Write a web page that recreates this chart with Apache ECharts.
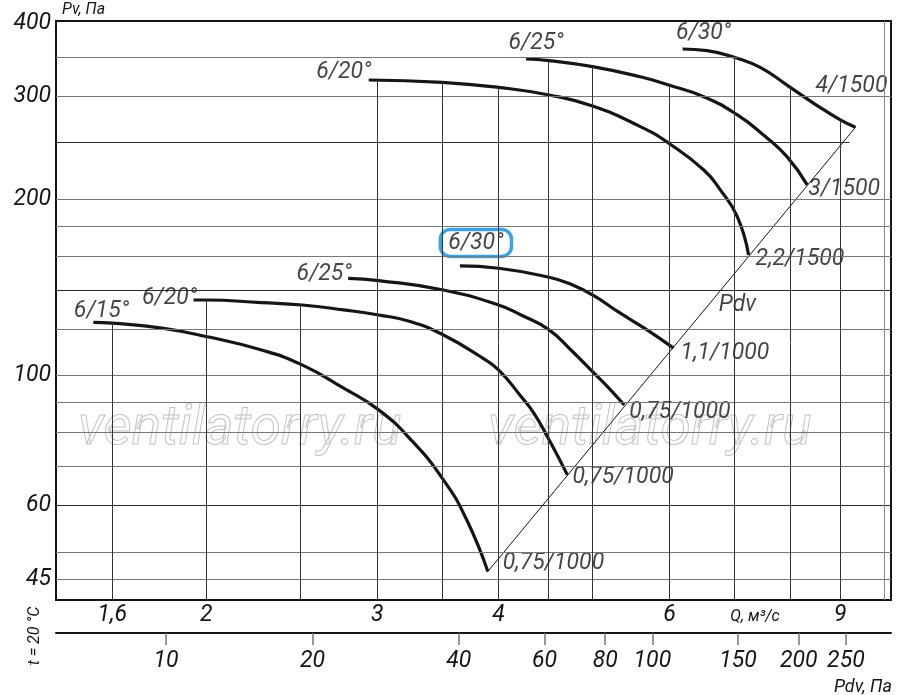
<!DOCTYPE html>
<html lang="ru">
<head>
<meta charset="UTF-8">
<title>Аэродинамическая характеристика</title>
<script src="https://cdn.jsdelivr.net/npm/echarts@6/dist/echarts.min.js"></script>
<style>
  body { margin: 0; background: #fff; }
  #main { width: 900px; height: 695px; }
</style>
</head>
<body>
<div id="main"></div>
<script type="text/javascript">
// ось расхода Q, м3/с и давлений, Па
var qTicks = [1.6, 2, 3, 4, 6, 9];
var pvTicks = [45, 60, 100, 200, 300, 400];
var pdvTicks = [10, 20, 40, 60, 80, 100, 150, 200, 250];

// линии сетки (горизонтальные обрываются на pvGridEnd, вертикальные - под кривыми)
var pvGrid = [45, 50, 60, 70, 80, 90, 100, 120, 140, 160, 180, 200, 250, 300, 350];
var pvGridEnd = [10.15, 10.15, 10.15, 10.15, 10.15, 10.15, 10.15, 10.15, 10.15, 10.15, 10.15, 10.15, 9.2, 10.15, 7.05];
var pvGridDark = [60, 140, 250];
var qGrid = [1.6, 2, 2.5, 3, 3.5, 4, 4.5, 5, 6, 7, 8, 9, 10];
var qGridTop = [122.9, 134.6, 132, 319.6, 316.7, 310.5, 344.8, 336.8, 313.3, 348.1, 311, 273.2, 403];

// кривые Pv(Q): 1000 об/мин
var r1000a15 = [[1.53, 123.3], [1.6, 122.9], [1.8, 120.5], [2.0, 116.6], [2.28, 110.6], [2.51, 104.3], [2.77, 95.2], [3.01, 87.4], [3.25, 77.7], [3.51, 66.4], [3.71, 56.7], [3.9, 46.3]];
var r1000a20 = [[1.94, 134.6], [2.0, 134.6], [2.28, 133.2], [2.51, 132.0], [2.77, 129.5], [3.01, 126.9], [3.25, 123.6], [3.51, 117.3], [3.83, 107.8], [4.0, 102.3], [4.22, 92.1], [4.35, 86.3], [4.51, 77.7], [4.71, 67.7]];
var r1000a25 = [[2.8, 146.6], [3.01, 145.3], [3.51, 140.0], [4.0, 132.0], [4.22, 126.9], [4.51, 119.7], [4.75, 110.6], [5.0, 101.6], [5.18, 95.8], [5.39, 89.1]];
var r1000a30 = [[3.65, 153.9], [4.0, 152.5], [4.51, 147.2], [4.75, 143.2], [5.0, 137.3], [5.34, 127.8], [5.69, 119.7], [6.06, 111.4]];
// 1500 об/мин
var r1500a20 = [[2.94, 319.6], [3.5, 316.7], [4.0, 310.5], [4.51, 301.3], [5.0, 288.5], [5.6, 266.1], [5.99, 249.3], [6.51, 224.4], [6.77, 207.5], [7.05, 186.7], [7.24, 160.7]];
var r1500a25 = [[4.27, 347.1], [4.51, 344.8], [5.0, 336.8], [5.6, 323.7], [5.99, 313.3], [6.51, 299.3], [7.05, 278.6], [7.5, 257.5], [7.93, 236.5], [8.32, 211.6]];
var r1500a30 = [[6.19, 361.0], [6.56, 358.6], [7.05, 348.1], [7.45, 335.5], [7.93, 313.3], [8.45, 291.6], [9.0, 273.2], [9.33, 265.4]];

// линия динамического давления
var pdvLine = [[3.9, 46.3], [9.33, 265.4]];
var pdvNote = [7.05, 132];

var curveData = [r1000a15, r1000a20, r1000a25, r1000a30, r1500a20, r1500a25, r1500a30];
var startNames = ['6/15°', '6/20°', '6/25°', '6/30°', '6/20°', '6/25°', '6/30°'];
var endNames = ['0,75/1000', '0,75/1000', '0,75/1000', '1,1/1000', '2,2/1500', '3/1500', '4/1500'];

// сдвиги подписей, px
var startOff = [[8, -11], [-24, -2], [-24, -4], [16, -23], [-25, -8], [10, -16], [21, -16]];
var endOff = [[15, -8], [5, 2], [5, 7], [7, 5], [7, 4], [1, 4], [-4, -41]];
var endAlign = ['left', 'left', 'left', 'left', 'left', 'left', 'center'];

var font = 'Roboto, "Noto Sans", sans-serif';
var ink = '#151515';
var fmt = function (v) { return String(Math.round(v * 10) / 10).replace('.', ','); };
var tickText = { fontSize: 23, fontStyle: 'italic', fontFamily: font, color: ink };

var myChart = echarts.init(document.getElementById('main'));

var gridLines = [];
pvGrid.forEach(function (v, i) {
    var dark = pvGridDark.indexOf(v) >= 0;
    gridLines.push([
        { coord: [1.4, v], lineStyle: { color: dark ? '#2a2a2a' : '#777', width: 1.2, type: 'solid' } },
        { coord: [pvGridEnd[i], v] }
    ]);
});
qGrid.forEach(function (q, i) {
    gridLines.push([
        { coord: [q, 41.4], lineStyle: { color: q === 10 ? '#888' : '#333', width: 1, type: 'solid' } },
        { coord: [q, qGridTop[i]] }
    ]);
});

var labelItems = [];
curveData.forEach(function (c, i) {
    var first = c[0], last = c[c.length - 1];
    var boxed = i === 3;
    labelItems.push({
        value: first,
        label: {
            formatter: startNames[i], offset: startOff[i], align: 'center', verticalAlign: 'middle',
            borderColor: boxed ? '#0e8bd8' : 'transparent', borderWidth: boxed ? 3.5 : 0,
            borderRadius: boxed ? 10 : 0, padding: boxed ? [3, 8, 1, 8] : 0
        }
    });
    labelItems.push({
        value: last,
        label: { formatter: endNames[i], offset: endOff[i], align: endAlign[i], verticalAlign: 'middle' }
    });
});
labelItems.push({ value: pdvNote, label: { formatter: 'Pdv', offset: [0, 0], align: 'center', verticalAlign: 'middle' } });

var series = [
    {
        name: 'grid', type: 'line', data: [], z: 1, silent: true,
        markLine: { silent: true, symbol: ['none', 'none'], label: { show: false }, animation: false, data: gridLines }
    },
    {
        name: 'Pdv', type: 'line', data: pdvLine, symbol: 'none', z: 2, silent: true,
        lineStyle: { color: ink, width: 1 }
    }
];
curveData.forEach(function (c, i) {
    series.push({
        name: startNames[i] + ' ' + endNames[i], type: 'line', data: c, symbol: 'none', z: 3,
        smooth: 0.5, lineStyle: { color: ink, width: 3.2 }
    });
});
series.push({
    name: 'labels', type: 'scatter', data: labelItems, symbolSize: 1, z: 4, silent: true,
    itemStyle: { color: 'rgba(0,0,0,0)' },
    label: Object.assign({ show: true, position: 'inside' }, tickText)
});

var option = {
    animation: false,
    grid: {
        left: 56, right: 9, top: 21, bottom: 95, show: true,
        borderColor: ink, borderWidth: 2, outerBoundsMode: 'none'
    },
    xAxis: [
        {
            type: 'log', min: 1.4, max: 10.15,
            axisLine: { show: false }, axisTick: { show: false }, splitLine: { show: false },
            axisLabel: Object.assign({ customValues: qTicks, margin: 4, formatter: fmt }, tickText)
        },
        {
            type: 'log', min: 5.94, max: 309.5, position: 'bottom', offset: 33,
            axisLine: { show: true, lineStyle: { color: ink, width: 2 } },
            axisTick: { show: true, customValues: pdvTicks, length: 12, lineStyle: { color: '#777', width: 1.5 } },
            splitLine: { show: false },
            axisLabel: Object.assign({ customValues: pdvTicks, margin: 17, formatter: fmt }, tickText)
        }
    ],
    yAxis: {
        type: 'log', min: 41.4, max: 403,
        axisLine: { show: false }, axisTick: { show: false }, splitLine: { show: false },
        axisLabel: Object.assign({ customValues: pvTicks, margin: 5, formatter: fmt }, tickText)
    },
    graphic: [
        { type: 'text', left: 62, top: 2, style: { text: 'Pv, Па', font: 'italic 16px ' + font, fill: ink } },
        { type: 'text', x: 755, y: 617, style: { text: 'Q, м³/с', font: 'italic 16px ' + font, fill: ink, align: 'center', verticalAlign: 'middle' } },
        { type: 'text', x: 892, y: 687, style: { text: 'Pdv, Па', font: 'italic 18px ' + font, fill: ink, align: 'right', verticalAlign: 'middle' } },
        { type: 'text', x: 35, y: 636, rotation: Math.PI / 2, style: { text: 't = 20 °C', font: 'italic 16px ' + font, fill: ink, align: 'center', verticalAlign: 'middle' } },
        { type: 'text', x: 78, y: 430, z: 0, silent: true, style: { text: 'ventilatorry.ru', font: 'italic 55px ' + font, fill: 'rgba(0,0,0,0)', stroke: '#c4c4c4', lineWidth: 1, verticalAlign: 'middle' } },
        { type: 'text', x: 488, y: 430, z: 0, silent: true, style: { text: 'ventilatorry.ru', font: 'italic 55px ' + font, fill: 'rgba(0,0,0,0)', stroke: '#c4c4c4', lineWidth: 1, verticalAlign: 'middle' } }
    ],
    series: series
};

myChart.setOption(option);
</script>
</body>
</html>
